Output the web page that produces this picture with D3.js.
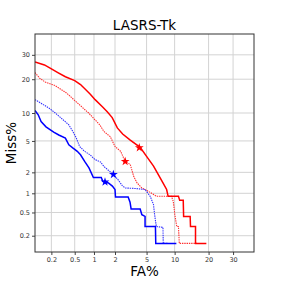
<!DOCTYPE html>
<html>
<head>
<meta charset="utf-8">
<script src="https://cdn.jsdelivr.net/npm/d3@7"></script>
<style>
  body { margin: 0; background: #fff; }
  svg { display: block; font-family: "DejaVu Sans", sans-serif; }
</style>
</head>
<body>
<div id="chart"></div>
<script>
// DET curve data, values in percent
var tickPct = [0.2, 0.5, 1, 2, 5, 10, 20, 30];

var redSolidFA   = [0.1, 0.15, 0.19, 0.26, 0.35, 0.5, 0.62, 0.88, 1.04, 1.33, 1.56, 1.83, 2.15, 2.53, 3.17, 4.2, 5.0, 6.0, 6.8, 7.6, 8.3, 8.6, 10.9, 11.2, 12.1, 12.2, 14.0, 14.1, 15.6, 15.6, 19.2];
var redSolidMiss = [26.8, 25.6, 24.3, 22.5, 20.9, 19.5, 18.1, 15.0, 13.4, 11.5, 10.3, 9.0, 7.0, 6.0, 5.1, 4.2, 3.24, 2.43, 1.85, 1.42, 1.14, 0.9, 0.9, 0.78, 0.78, 0.43, 0.43, 0.29, 0.29, 0.145, 0.145];

var redDotFA   = [0.1, 0.122, 0.154, 0.23, 0.37, 0.52, 0.83, 1.22, 1.4, 1.72, 2.0, 2.38, 2.73, 3.17, 3.5, 3.85, 4.4, 5.25, 6.5, 9.3, 9.7, 10.05, 10.5, 10.9, 11.1, 16.0];
var redDotMiss = [22.5, 20.4, 19.0, 17.8, 15.3, 12.9, 10.0, 7.55, 6.4, 5.6, 4.3, 3.75, 2.8, 2.55, 1.76, 1.42, 1.2, 1.07, 0.9, 0.9, 0.75, 0.46, 0.29, 0.29, 0.145, 0.145];

var blueSolidFA   = [0.1, 0.115, 0.13, 0.16, 0.22, 0.27, 0.35, 0.4, 0.47, 0.55, 0.62, 0.72, 0.84, 0.98, 1.28, 1.35, 1.62, 1.84, 2.0, 2.03, 2.98, 3.15, 3.25, 4.2, 4.4, 4.8, 4.8, 6.3, 6.35, 10.4];
var blueSolidMiss = [10.6, 9.6, 8.2, 7.2, 6.3, 5.85, 5.4, 4.5, 4.1, 3.75, 3.4, 2.8, 2.3, 1.7, 1.7, 1.5, 1.42, 1.28, 1.14, 0.88, 0.88, 0.73, 0.57, 0.57, 0.46, 0.43, 0.29, 0.29, 0.145, 0.145];

var blueDotFA   = [0.1, 0.13, 0.18, 0.235, 0.32, 0.4, 0.47, 0.53, 0.6, 0.72, 0.87, 1.04, 1.25, 1.4, 1.6, 1.9, 2.18, 2.5, 2.74, 3.65, 4.8, 5.5, 6.0, 6.2, 6.45, 7.6, 7.65, 8.5];
var blueDotMiss = [13.4, 12.4, 11.2, 10.0, 8.55, 7.55, 6.35, 5.4, 4.3, 3.75, 3.4, 2.95, 2.75, 2.4, 2.15, 1.87, 1.6, 1.3, 1.2, 1.18, 1.14, 0.9, 0.67, 0.43, 0.29, 0.28, 0.145, 0.145];

// operating points (stars)
var starFA    = [4.1, 2.73, 1.45, 1.9];
var starMiss  = [4.15, 2.8, 1.47, 1.87];
var starColor = ["#ff0000", "#ff0000", "#0000ff", "#0000ff"];

// inverse normal cdf (Acklam)
function probit(p) {
  var a = [-3.969683028665376e+01, 2.209460984245205e+02, -2.759285104469687e+02, 1.383577518672690e+02, -3.066479806614716e+01, 2.506628277459239e+00];
  var b = [-5.447609879822406e+01, 1.615858368580409e+02, -1.556989798598866e+02, 6.680131188771972e+01, -1.328068155288572e+01];
  var c = [-7.784894002430293e-03, -3.223964580411365e-01, -2.400758277161838e+00, -2.549732539343734e+00, 4.374664141464968e+00, 2.938163982698783e+00];
  var d = [7.784695709041462e-03, 3.224671290700398e-01, 2.445134137142996e+00, 3.754408661907416e+00];
  var pl = 0.02425, q, r;
  if (p < pl) {
    q = Math.sqrt(-2 * Math.log(p));
    return (((((c[0]*q+c[1])*q+c[2])*q+c[3])*q+c[4])*q+c[5]) / ((((d[0]*q+d[1])*q+d[2])*q+d[3])*q+1);
  } else if (p <= 1 - pl) {
    q = p - 0.5; r = q * q;
    return (((((a[0]*r+a[1])*r+a[2])*r+a[3])*r+a[4])*r+a[5])*q / (((((b[0]*r+b[1])*r+b[2])*r+b[3])*r+b[4])*r+1);
  } else {
    q = Math.sqrt(-2 * Math.log(1 - p));
    return -(((((c[0]*q+c[1])*q+c[2])*q+c[3])*q+c[4])*q+c[5]) / ((((d[0]*q+d[1])*q+d[2])*q+d[3])*q+1);
  }
}
function pz(pct) { return probit(pct / 100); }

var W = 283, H = 283;
var margin = {top: 34, right: 29, bottom: 31, left: 35},
    width = W - margin.left - margin.right,
    height = H - margin.top - margin.bottom;

var svg = d3.select("#chart").append("svg")
    .attr("width", W)
    .attr("height", H);

var g = svg.append("g")
    .attr("transform", "translate(" + margin.left + "," + margin.top + ")");

var x = d3.scaleLinear().domain([pz(0.1), pz(40)]).range([0, width]);
var y = d3.scaleLinear().domain([pz(0.1), pz(40)]).range([height, 0]);

var tickZ = tickPct.map(pz);
function fmt(z) {
  var i = tickZ.findIndex(function(t) { return Math.abs(t - z) < 1e-9; });
  return String(tickPct[i]);
}

// grid
g.append("g").selectAll("line").data(tickZ).enter().append("line")
    .attr("x1", function(d) { return x(d); }).attr("x2", function(d) { return x(d); })
    .attr("y1", 0).attr("y2", height)
    .attr("stroke", "#d3d3d3").attr("stroke-width", 1);
g.append("g").selectAll("line").data(tickZ).enter().append("line")
    .attr("y1", function(d) { return y(d); }).attr("y2", function(d) { return y(d); })
    .attr("x1", 0).attr("x2", width)
    .attr("stroke", "#d3d3d3").attr("stroke-width", 1);

// curves
g.append("clipPath").attr("id", "clip")
  .append("rect").attr("width", width).attr("height", height);

var line = d3.line()
    .x(function(d) { return x(pz(d[0])); })
    .y(function(d) { return y(pz(d[1])); });

var curves = [
  {fa: redDotFA, miss: redDotMiss, color: "#ff3030", dash: "1.4,0.9", w: 1.1},
  {fa: blueDotFA, miss: blueDotMiss, color: "#3030ff", dash: "1.4,0.9", w: 1.1},
  {fa: redSolidFA, miss: redSolidMiss, color: "#ff0000", dash: null, w: 1.5},
  {fa: blueSolidFA, miss: blueSolidMiss, color: "#0000ff", dash: null, w: 1.5}
];

curves.forEach(function(c) {
  var pts = c.fa.map(function(f, i) { return [f, c.miss[i]]; });
  g.append("path")
      .datum(pts)
      .attr("clip-path", "url(#clip)")
      .attr("fill", "none")
      .attr("stroke", c.color)
      .attr("stroke-width", c.w)
      .attr("stroke-dasharray", c.dash)
      .attr("d", line);
});

g.selectAll(".star")
    .data(starFA)
  .enter().append("path")
    .attr("class", "star")
    .attr("transform", function(d, i) { return "translate(" + x(pz(d)) + "," + y(pz(starMiss[i])) + ")"; })
    .attr("d", d3.symbol().type(d3.symbolStar).size(24))
    .attr("fill", function(d, i) { return starColor[i]; });

// axes
var xAxis = g.append("g")
    .attr("transform", "translate(0," + height + ")")
    .call(d3.axisBottom(x).tickValues(tickZ).tickFormat(fmt).tickSize(3).tickPadding(2));
var yAxis = g.append("g")
    .call(d3.axisLeft(y).tickValues(tickZ).tickFormat(fmt).tickSize(3).tickPadding(2));

[xAxis, yAxis].forEach(function(a) {
  a.select(".domain").remove();
  a.selectAll(".tick line").attr("stroke", "#444");
  a.selectAll(".tick text")
      .attr("fill", "#333")
      .style("font-family", "DejaVu Sans")
      .style("font-size", "6.5px");
});

// frame
g.append("rect")
    .attr("width", width).attr("height", height)
    .attr("fill", "none").attr("stroke", "#333").attr("stroke-width", 1);

// titles
svg.append("text")
    .attr("x", margin.left + width / 2).attr("y", 29.5)
    .attr("text-anchor", "middle")
    .style("font-size", "13.5px")
    .text("LASRS-Tk");

svg.append("text")
    .attr("x", margin.left + width / 2).attr("y", 276)
    .attr("text-anchor", "middle")
    .style("font-size", "13.5px")
    .text("FA%");

svg.append("text")
    .attr("transform", "translate(16," + (margin.top + height / 2) + ") rotate(-90)")
    .attr("text-anchor", "middle")
    .style("font-size", "13.5px")
    .text("Miss%");
</script>
</body>
</html>
